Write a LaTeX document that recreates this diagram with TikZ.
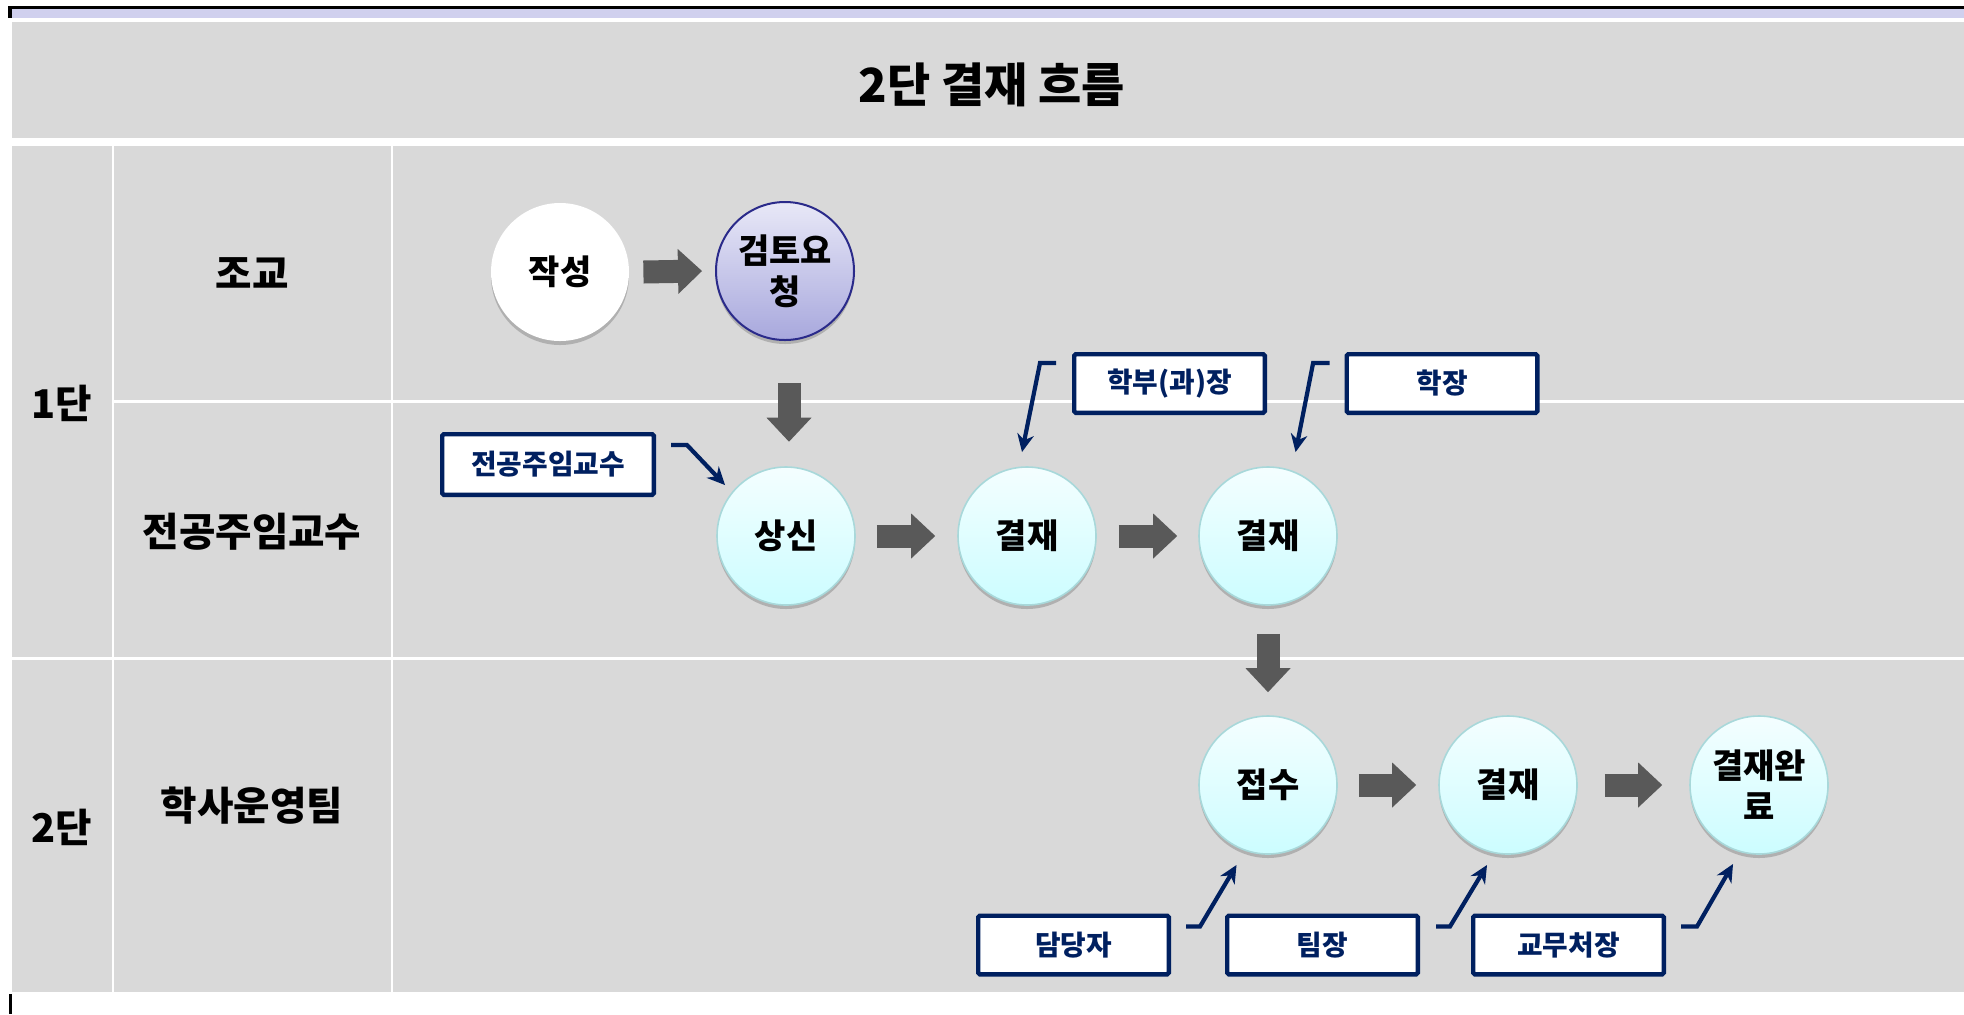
\documentclass[tikz,border=0pt]{standalone}
\usepackage{fontspec}
\setmainfont{Noto Sans CJK KR}
\usetikzlibrary{arrows.meta,shadows,calc}
\definecolor{cellgray}{HTML}{D9D9D9}
\definecolor{lav}{HTML}{D0D0EE}
\definecolor{navy}{HTML}{002060}
\definecolor{arrowgray}{HTML}{595959}
\definecolor{cyantop}{HTML}{F4FEFF}
\definecolor{cyanbot}{HTML}{CCFDFF}
\definecolor{cyanedge}{HTML}{A8D8DA}
\definecolor{purtop}{HTML}{E8E8F7}
\definecolor{purbot}{HTML}{A8A8DD}
\definecolor{puredge}{HTML}{2A2A8A}
\begin{document}
\begin{tikzpicture}[x=0.5pt,y=-0.5pt,
  stepcircle/.style={circle, minimum size=69pt, inner sep=0pt, align=center,
    font=\fontsize{17}{20.5}\selectfont\bfseries,
    drop shadow={shadow xshift=0pt, shadow yshift=-2pt, opacity=0.35, fill=black!60}},
  whitecircle/.style={stepcircle, fill=white},
  cyancircle/.style={stepcircle, top color=cyantop, bottom color=cyanbot, draw=cyanedge, line width=0.8pt},
  purcircle/.style={stepcircle, top color=purtop, bottom color=purbot, draw=puredge, line width=1pt},
  rolebox/.style={draw=navy, line width=2.2pt, fill=white, rounded corners=0.8pt,
    minimum width=95.3pt, minimum height=29.3pt, inner sep=0pt, text=navy,
    font=\fontsize{13.9}{15}\selectfont\bfseries},
  headtext/.style={font=\fontsize{19.8}{22}\selectfont\bfseries, inner sep=0pt},
  blk/.style={draw=arrowgray, line width=11.5pt,
    -{Triangle[length=12pt, width=22.5pt, line width=0pt]}},
  conn/.style={draw=navy, line width=2.1pt, line join=miter,
    -{Stealth[length=9pt, width=8.5pt, line width=0pt]}},
  gridline/.style={draw=white, line width=1.3pt}
]
\useasboundingbox (0,0) rectangle (1964,1014);
\fill[white] (0,0) rectangle (1964,1014);
% top frame
\fill[black] (8.4,6) rectangle (1964,8.6);
\fill[black] (8.4,6) rectangle (11.5,18);
\fill[lav] (11.5,8.6) rectangle (1964,18);
\fill[black] (9.3,994) rectangle (11.7,1014);
% title band
\fill[cellgray] (11.5,22) rectangle (1964,138);
% grid
\fill[cellgray] (11.7,146) rectangle (1964,992);
\draw[gridline] (113,146) -- (113,992);
\draw[gridline] (392,146) -- (392,992);
\draw[gridline] (113,401.5) -- (1964,401.5);
\draw[gridline] (11.7,658.5) -- (1964,658.5);

% texts
\node[font=\fontsize{23.5}{26}\selectfont\bfseries, inner sep=0pt] (title) at (992,85) {2단 결재 흐름};
\node[headtext] (st1) at (62,403) {1단};
\node[headtext] (st2) at (62,827) {2단};
\node[headtext] (r1) at (252,273) {조교};
\node[headtext] (r2) at (252,532) {전공주임교수};
\node[headtext] (r3) at (252,806) {학사운영팀};

% circles
\node[whitecircle] (zak) at (560,272) {작성};
\node[purcircle] (geom) at (785,271) {검토요\\청};
\node[cyancircle] (sang) at (786,536) {상신};
\node[cyancircle] (gj1) at (1027,536) {결재};
\node[cyancircle] (gj2) at (1268,536) {결재};
\node[cyancircle] (jeop) at (1268,785) {접수};
\node[cyancircle] (gj3) at (1508,785) {결재};
\node[cyancircle] (done) at (1759,785) {결재완\\료};

% block arrows
\draw[blk] ($(zak.east)+(14,0)$) -- ($(geom.west)+(-13,0)$);
\draw[blk] ($(geom.south)+(4,42)$) -- ($(sang.north)+(3,-24.5)$);
\draw[blk] ($(sang.east)+(21,0)$) -- ($(gj1.west)+(-22,0)$);
\draw[blk] ($(gj1.east)+(22,0)$) -- ($(gj2.west)+(-21,0)$);
\draw[blk] ($(gj2.south)+(0,28)$) -- ($(jeop.north)+(0,-23)$);
\draw[blk] ($(jeop.east)+(21,0)$) -- ($(gj3.west)+(-22,0)$);
\draw[blk] ($(gj3.east)+(27,0)$) -- ($(done.west)+(-27,0)$);

% role boxes
\node[rolebox, minimum width=105.8pt, minimum height=30.3pt] (bjg) at (548,464.5) {전공주임교수};
\node[rolebox] (bhb) at (1169.5,383.5) {학부(과)장};
\node[rolebox] (bhj) at (1442,383.5) {학장};
\node[rolebox] (bdd) at (1073.5,945) {담당자};
\node[rolebox] (btj) at (1322.5,945) {팀장};
\node[rolebox] (bgm) at (1568.5,945) {교무처장};

% connectors
\draw[conn] ($(bjg.north east)+(15,13)$) -- ++(16,0) -- ($(sang)+(-61,-51)$);
\draw[conn] ($(bhb.north west)+(-16,11)$) -- ++(-16,0) -- ($(gj1)+(-5,-84)$);
\draw[conn] ($(bhj.north west)+(-15,11)$) -- ++(-16.4,0) -- ($(gj2)+(27.6,-84)$);
\draw[conn] ($(bdd.north east)+(15,13)$) -- ++(14,0) -- ($(jeop)+(-31.5,80)$);
\draw[conn] ($(btj.north east)+(16,13)$) -- ++(14,0) -- ($(gj3)+(-21,80)$);
\draw[conn] ($(bgm.north east)+(15,13)$) -- ++(16,0) -- ($(done)+(-26,79)$);
\end{tikzpicture}
\end{document}
